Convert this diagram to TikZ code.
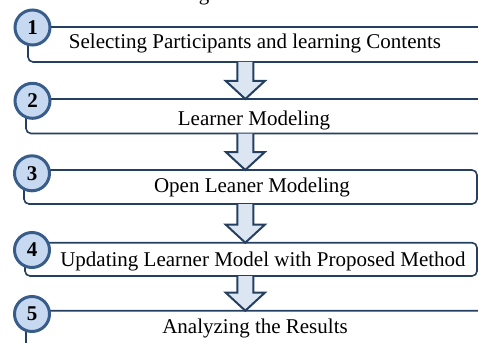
\documentclass[tikz,border=0pt]{standalone}
\usepackage{fontspec}
\setmainfont{Liberation Serif}
\usetikzlibrary{calc}
\definecolor{boxc}{HTML}{243F60}
\definecolor{circc}{HTML}{385D8A}
\definecolor{circf}{HTML}{C6D9F1}
\definecolor{arrf}{HTML}{DCE6F2}
\begin{document}
\begin{tikzpicture}[x=1pt,y=-1pt,
  stepbox/.style={draw=boxc, line width=1.6pt, fill=white, rounded corners=5pt,
    rectangle, anchor=north west, inner sep=0pt, outer sep=0pt},
  numcirc/.style={circle, draw=circc, line width=3pt, fill=circf, minimum size=35pt,
    inner sep=0pt, outer sep=0pt, font=\bfseries\fontsize{21}{21}\selectfont},
  blockarr/.style={draw=boxc, line width=2pt, fill=arrf, line join=miter},
  lbl/.style={anchor=base, inner sep=0pt, font=\fontsize{21}{25}\selectfont}]
\useasboundingbox (0,0) rectangle (478,342);
\clip (0,0) rectangle (478,342);

% clipped caption fragment
\node[lbl] (cap) at (204,0.5) {g};

% boxes
\node[stepbox, minimum width=462pt, minimum height=35pt] (b1) at (28,27) {};
\node[stepbox, minimum width=464pt, minimum height=34.5pt] (b2) at (26,99) {};
\node[stepbox, minimum width=453pt, minimum height=34pt] (b3) at (24,170) {};
\node[stepbox, minimum width=452pt, minimum height=33.3pt] (b4) at (25,242.7) {};
\node[stepbox, minimum width=464pt, minimum height=60pt] (b5) at (26,310.7) {};

% number circles
\node[numcirc] (c1) at (32.5,27.5) {1};
\node[numcirc] (c2) at (32.5,100.8) {2};
\node[numcirc] (c3) at (32,173.3) {3};
\node[numcirc] (c4) at (32,250) {4};
\node[numcirc] (c5) at (32,314) {5};

% labels
\node[lbl] (l1) at (255,48.3) {Selecting Participants and learning Contents};
\node[lbl] (l2) at (254,125.7) {Learner Modeling};
\node[lbl] (l3) at (252,192.7) {Open Leaner Modeling};
\node[lbl] (l4) at (263,266.7) {Updating Learner Model with Proposed Method};
\node[lbl] (l5) at (255,333.3) {Analyzing the Results};

% block arrows
\coordinate (ax) at (245.3,0);
\foreach \a/\b in {b1/b2,b2/b3,b3/b4,b4/b5}{
  \draw[blockarr]
    ($(\a.south -| ax)+(-8,0)$) -- ($(\b.north -| ax)+(-8,-18)$)
    -- ($(\b.north -| ax)+(-19.5,-18)$) -- (\b.north -| ax)
    -- ($(\b.north -| ax)+(19.5,-18)$) -- ($(\b.north -| ax)+(8,-18)$)
    -- ($(\a.south -| ax)+(8,0)$);
}
\end{tikzpicture}
\end{document}
